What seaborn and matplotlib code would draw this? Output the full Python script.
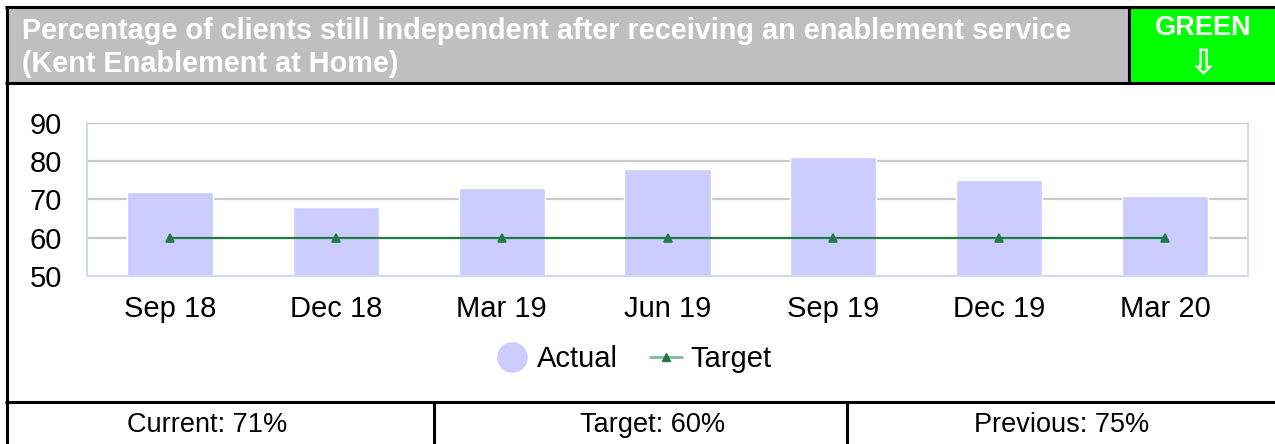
import matplotlib
matplotlib.use("Agg")
import matplotlib.pyplot as plt
from matplotlib.patches import Rectangle
from matplotlib.lines import Line2D
import seaborn as sns
import pandas as pd

# Quarterly enablement outcomes
quarters = ["Sep 18", "Dec 18", "Mar 19", "Jun 19", "Sep 19", "Dec 19", "Mar 20"]
actual = [72, 68, 73, 78, 81, 75, 71]
target = [60, 60, 60, 60, 60, 60, 60]
yticks = [50, 60, 70, 80, 90]

title_text = "Percentage of clients still independent after receiving an enablement service\n(Kent Enablement at Home)"
status_text = "GREEN"
footer_labels = ["Current: 71%", "Target: 60%", "Previous: 75%"]

df = pd.DataFrame({"Quarter": quarters, "Actual": actual, "Target": target})

W, H = 1275, 444
sns.set_theme(style="white")
plt.rcParams["font.family"] = ["Liberation Sans", "DejaVu Sans"]
plt.rcParams["text.color"] = "black"

fig = plt.figure(figsize=(W / 100, H / 100), dpi=100)
fig.patch.set_facecolor("white")


def fx(x):
    return x / W


def fy(y):
    return 1 - y / H


BAR = "#ccccff"
GREEN_LINE = "#1f7a45"
GRID = "#c9c9c9"
AXIS = "#d3daee"

# ---- header band ----
fig.add_artist(Rectangle((fx(6), fy(83)), fx(1129) - fx(6), fy(8) - fy(83),
                         transform=fig.transFigure, facecolor="#bfbfbf", edgecolor="none"))
fig.add_artist(Rectangle((fx(1129), fy(83)), fx(W) - fx(1129), fy(8) - fy(83),
                         transform=fig.transFigure, facecolor="#00ff00", edgecolor="none"))
for (x0, y0, x1, y1) in [(5, 7.5, W, 7.5), (5, 83, W, 83), (6.5, 7, 6.5, H),
                         (1129, 7, 1129, 83), (5, 402, W, 402), (434, 402, 434, H),
                         (847, 402, 847, H)]:
    fig.add_artist(Line2D([fx(x0), fx(x1)], [fy(y0), fy(y1)], transform=fig.transFigure,
                          color="black", linewidth=2.2, solid_capstyle="butt"))

fig.text(fx(22), fy(47.5), title_text, color="white", fontsize=20.8, fontweight="bold",
         ha="left", va="center", linespacing=1.25)
fig.text(fx(1203), fy(28), status_text, color="white", fontsize=19.5, fontweight="bold",
         ha="center", va="center")
fig.text(fx(1203), fy(64), "\u21e9", color="white", fontsize=25, ha="center", va="center",
         family=["DejaVu Sans"], fontweight="bold")

# ---- chart ----
ax = fig.add_axes([fx(87), fy(276), fx(1248) - fx(87), fy(123) - fy(276)])
sns.barplot(data=df, x="Quarter", y="Actual", color=BAR, width=0.52, saturation=1,
            ax=ax, zorder=2)
sns.pointplot(data=df, x="Quarter", y="Target", color=GREEN_LINE, markers="^",
              markersize=6, linewidth=1.6, ax=ax, zorder=3)

ax.set_ylim(50, 90)
ax.set_xlim(-0.5, len(quarters) - 0.5)
ax.set_yticks(yticks)
ax.yaxis.grid(True, color=GRID, linewidth=1.6)
ax.set_axisbelow(True)
ax.set_xlabel("")
ax.set_ylabel("")
for side in ["left", "right", "bottom"]:
    ax.spines[side].set_visible(True)
    ax.spines[side].set_color(AXIS)
    ax.spines[side].set_linewidth(1.5)
ax.spines["top"].set_visible(False)
ax.tick_params(axis="y", length=0, pad=18, labelsize=21, labelcolor="black")
ax.tick_params(axis="x", which="major", length=0, pad=14, labelsize=21, labelcolor="black")
ax.set_xticks([i - 0.5 for i in range(len(quarters) + 1)], minor=True)
ax.tick_params(axis="x", which="minor", length=11, width=1.5, color=AXIS)

handles = [
    Line2D([], [], linestyle="none", marker="o", markersize=21, markerfacecolor=BAR,
           markeredgecolor=BAR),
    Line2D([], [], color="#7fbf95", linewidth=2, marker="^", markersize=6,
           markerfacecolor=GREEN_LINE, markeredgecolor=GREEN_LINE),
]
fig.legend(handles, ["Actual", "Target"], loc="center", bbox_to_anchor=(fx(634), fy(359)),
           ncol=2, frameon=False, fontsize=21, handlelength=1.1, handletextpad=0.3,
           columnspacing=1.1, labelcolor="black")

# ---- footer ----
for label, cx in zip(footer_labels, [207, 653, 1062]):
    fig.text(fx(cx), fy(425), label, fontsize=19.5, ha="center", va="center", color="black")

fig.savefig("out.png", dpi=100, facecolor="white")
